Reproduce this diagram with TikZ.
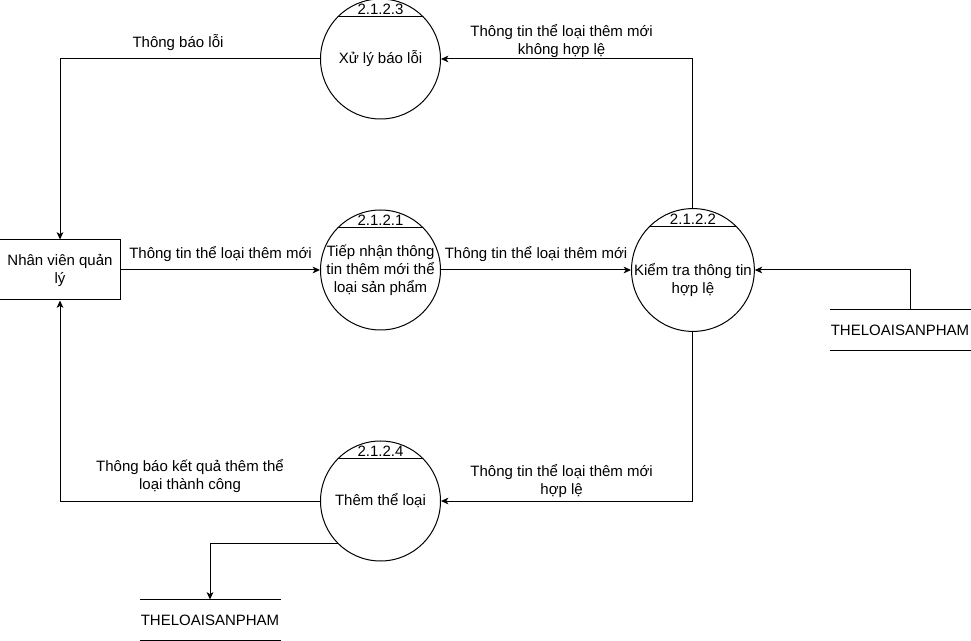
\documentclass[tikz,border=0pt]{standalone}
\usepackage{fontspec}
\setmainfont{Liberation Sans}
\usetikzlibrary{positioning,calc,arrows.meta}

\begin{document}
\begin{tikzpicture}[x=0.75pt, y=-0.75pt, line width=0.75pt,
    every node/.style={font=\fontsize{11.25}{13.5}\selectfont, align=center},
    >={Stealth[length=5.5pt,width=5pt,inset=1.5pt]},
    process/.style={circle, draw, minimum size=90pt, inner sep=0pt},
    entity/.style={rectangle, draw, minimum width=90.75pt, minimum height=45pt, inner sep=0pt},
    store/.style={minimum width=105pt, minimum height=30pt, inner sep=0pt},
    flowtext/.style={above=6pt, inner sep=0pt}]
    \useasboundingbox (0,0) rectangle (971,641);

    \node[entity] (nv) at (60,270) {Nhân viên quản\\lý};
    \node[process, right=149.25pt of nv] (p1) {Tiếp nhận thông\\tin thêm mới thể\\loại sản phẩm};
    \node[process, right=142.5pt of p1] (p2) {\raisebox{-8pt}[\height][\depth]{\begin{tabular}{@{}c@{}}Kiểm tra thông tin\\hợp lệ\end{tabular}}};
    \node[process, above=67.5pt of p1] (p3) {Xử lý báo lỗi};
    \node[process, below=82.5pt of p1] (p4) {Thêm thể loại};
    \node[store] (ds1) at (900,330) {THELOAISANPHAM};
    \node[store] (ds2) at (210,620) {THELOAISANPHAM};

    % process numbers
    \foreach \p/\n in {p1/2.1.2.1, p2/2.1.2.2, p3/2.1.2.3, p4/2.1.2.4} {
        \draw (\p.north west) -- (\p.north east);
        \node[above=0pt, inner sep=1pt] (\p num) at ($(\p.north west)!0.5!(\p.north east)$) {\n};
    }
    % data stores
    \foreach \s in {ds1, ds2} {
        \draw (\s.north west) -- (\s.north east);
        \draw (\s.south west) -- (\s.south east);
    }

    \draw[->] (nv) -- node[flowtext] {Thông tin thể loại thêm mới} (p1);
    \draw[->] (p1) -- node[flowtext] {Thông tin thể loại thêm mới} (p2);
    \draw[->] (p2.north) |- node[flowtext, pos=0.75, above=0.5pt, xshift=-4pt] {Thông tin thể loại thêm mới\\không hợp lệ} (p3.east);
    \draw[->] (p3.west) -| node[flowtext, pos=0.25, xshift=-9pt] {Thông báo lỗi} (nv.north);
    \draw[->] (p2.south) |- node[flowtext, pos=0.75, above=2pt, xshift=-4pt] {Thông tin thể loại thêm mới\\hợp lệ} (p4.east);
    \draw[->] (p4.west) -| node[flowtext, pos=0.25] {Thông báo kết quả thêm thể\\loại thành công} (nv.south);
    \draw[->] ([xshift=7.5pt]ds1.north) |- (p2.east);
    \draw[->] (p4.south west) -| (ds2.north);

\end{tikzpicture}
\end{document}
